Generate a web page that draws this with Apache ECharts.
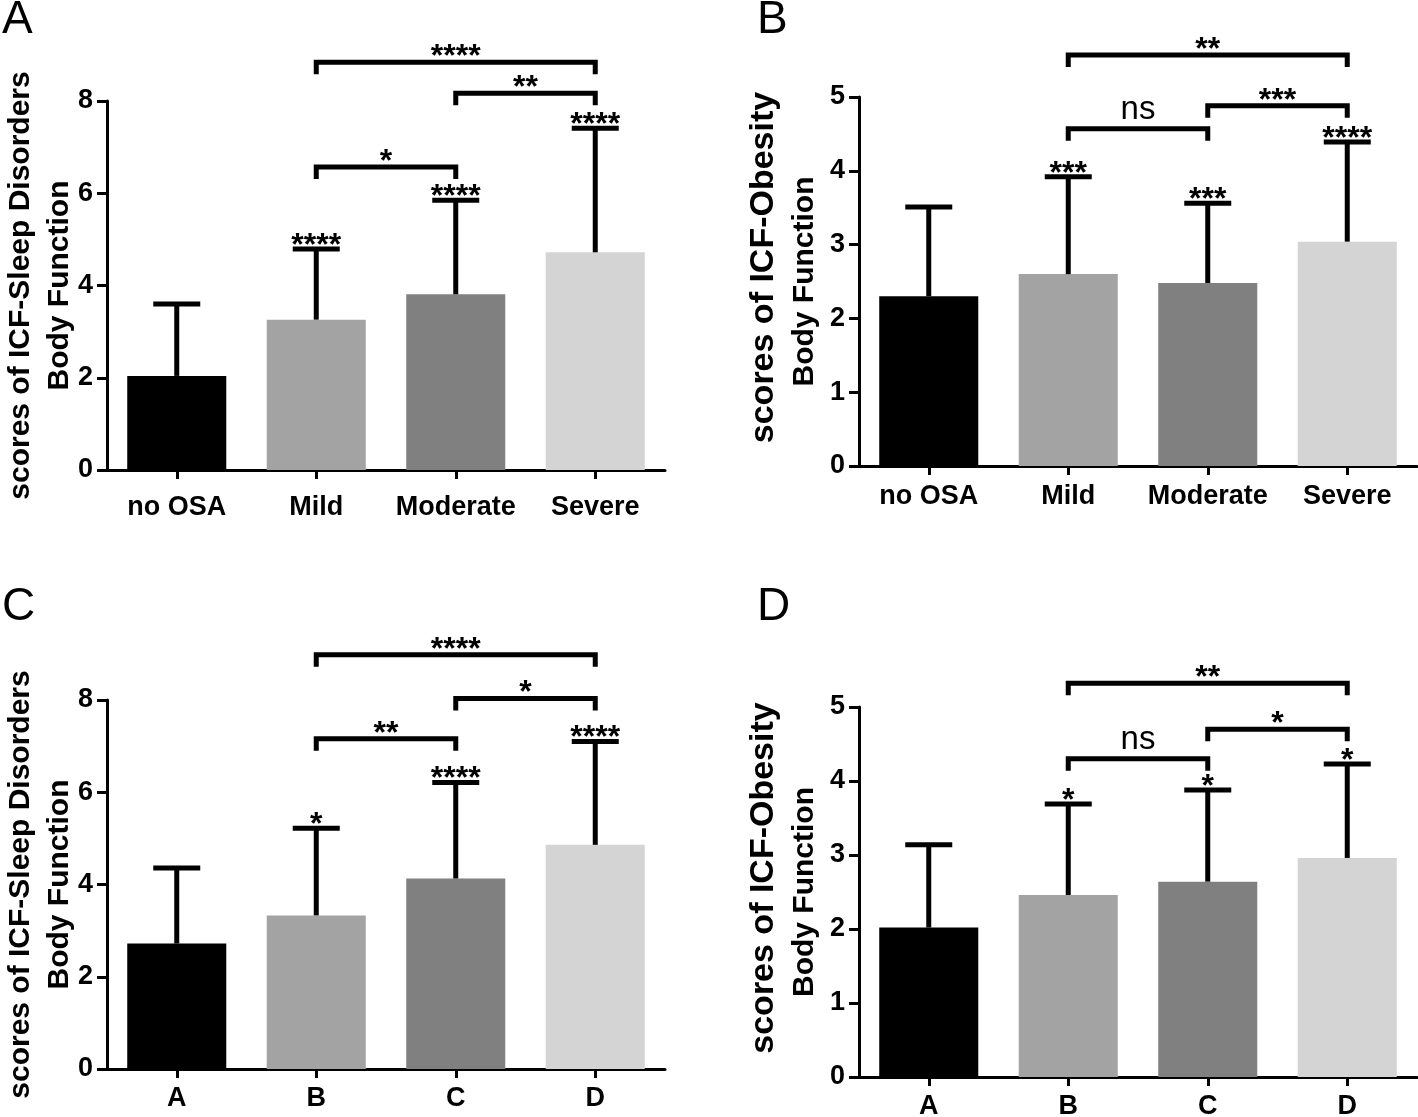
<!DOCTYPE html>
<html>
<head>
<meta charset="utf-8">
<script src="https://cdn.jsdelivr.net/npm/echarts@6/dist/echarts.min.js"></script>
<style>
html,body{margin:0;padding:0;background:#fff;}
#chart{width:1418px;height:1117px;}
</style>
</head>
<body>
<div id="chart"></div>
<script>
// ---------- data ----------
const catsSeverity = ['no OSA', 'Mild', 'Moderate', 'Severe'];
const catsGroup = ['A', 'B', 'C', 'D'];

// Panel A: ICF-Sleep Disorders by OSA severity
const meanA = [2.04, 3.26, 3.81, 4.72];
const upperA = [3.60, 4.79, 5.85, 7.41];
const capSigA = ['', '****', '****', '****'];
const bracketsA = [[1, 2, 6.57, '*'], [2, 3, 8.17, '**'], [1, 3, 8.84, '****']];

// Panel B: ICF-Obesity by OSA severity
const meanB = [2.30, 2.60, 2.48, 3.04];
const upperB = [3.51, 3.92, 3.56, 4.39];
const capSigB = ['', '***', '***', '****'];
const bracketsB = [[1, 2, 4.57, 'ns'], [2, 3, 4.88, '***'], [1, 3, 5.57, '**']];

// Panel C: ICF-Sleep Disorders by group
const meanC = [2.72, 3.33, 4.13, 4.86];
const upperC = [4.36, 5.22, 6.21, 7.10];
const capSigC = ['', '*', '****', '****'];
const bracketsC = [[1, 2, 7.16, '**'], [2, 3, 8.03, '*'], [1, 3, 8.98, '****']];

// Panel D: ICF-Obesity by group
const meanD = [2.02, 2.46, 2.64, 2.96];
const upperD = [3.14, 3.69, 3.88, 4.23];
const capSigD = ['', '*', '*', '*'];
const bracketsD = [[1, 2, 4.30, 'ns'], [2, 3, 4.70, '*'], [1, 3, 5.32, '**']];

// y-axis ranges / ticks
const yMaxSleep = 8, yStepSleep = 2;
const yMaxObes = 5, yStepObes = 1;

const yTitleSleep = ['scores of ICF-Sleep Disorders', 'Body Function'];
const yTitleObes = ['scores of ICF-Obesity', 'Body Function'];
const panelLetters = ['A', 'B', 'C', 'D'];

// ---------- styles ----------
const FONT = "'Liberation Sans', Arial, Helvetica, sans-serif";
const barColors = ['#000000', '#a3a3a3', '#808080', '#d4d4d4'];

const grids = [
  {left: 107, top: 101, width: 558, height: 369, outerBoundsMode: 'none'},
  {left: 859, top: 97, width: 558, height: 369, outerBoundsMode: 'none'},
  {left: 107, top: 700, width: 558, height: 369, outerBoundsMode: 'none'},
  {left: 859, top: 707, width: 558, height: 370, outerBoundsMode: 'none'}
];
const xLabelMargin = [24, 17, 16, 16];

// title line styles per panel
const titleFmt = [
  {s1: 30, pad: 0, gap: 27},
  {s1: 34, pad: 28, gap: 34},
  {s1: 30, pad: 0, gap: 27},
  {s1: 34, pad: 28, gap: 34}
];

const panels = [
  {cats: catsSeverity, mean: meanA, upper: upperA, cap: capSigA, br: bracketsA, max: yMaxSleep, step: yStepSleep, title: yTitleSleep},
  {cats: catsSeverity, mean: meanB, upper: upperB, cap: capSigB, br: bracketsB, max: yMaxObes, step: yStepObes, title: yTitleObes},
  {cats: catsGroup, mean: meanC, upper: upperC, cap: capSigC, br: bracketsC, max: yMaxSleep, step: yStepSleep, title: yTitleSleep},
  {cats: catsGroup, mean: meanD, upper: upperD, cap: capSigD, br: bracketsD, max: yMaxObes, step: yStepObes, title: yTitleObes}
];

const xAxes = [], yAxes = [], series = [];

panels.forEach((p, k) => {
  const tf = titleFmt[k];
  xAxes.push({
    type: 'category', gridIndex: k, data: p.cats, boundaryGap: true,
    axisLine: {show: true, lineStyle: {color: '#000', width: 3}},
    axisTick: {show: true, alignWithLabel: true, interval: 0, length: 9, lineStyle: {color: '#000', width: 3}},
    axisLabel: {color: '#000', fontFamily: FONT, fontWeight: 'bold', fontSize: 27, margin: xLabelMargin[k], interval: 0, hideOverlap: false},
    splitLine: {show: false}
  });
  yAxes.push({
    type: 'value', gridIndex: k, min: 0, max: p.max, interval: p.step,
    name: '{a|' + p.title[0] + '}\n{b|' + p.title[1] + '}',
    nameLocation: 'middle', nameGap: tf.gap, nameMoveOverlap: false,
    nameTextStyle: {
      color: '#000', fontFamily: FONT, fontWeight: 'bold', fontSize: 30, align: 'center',
      rich: {
        a: {fontFamily: FONT, fontWeight: 'bold', fontSize: tf.s1, lineHeight: tf.s1 + 8, color: '#000', padding: [0, 0, 0, tf.pad]},
        b: {fontFamily: FONT, fontWeight: 'bold', fontSize: 30, lineHeight: 40, color: '#000'}
      }
    },
    axisLine: {show: true, lineStyle: {color: '#000', width: 3}},
    axisTick: {show: true, length: 10, lineStyle: {color: '#000', width: 3}},
    axisLabel: {color: '#000', fontFamily: FONT, fontWeight: 'bold', fontSize: 27, margin: 14},
    splitLine: {show: false}
  });

  // bars
  series.push({
    type: 'bar', xAxisIndex: k, yAxisIndex: k, barWidth: '71%',
    data: p.mean.map((v, i) => ({value: v, itemStyle: {color: barColors[i]}})),
    silent: true, animation: false
  });

  // error bars (upper only, GraphPad style)
  series.push({
    type: 'custom', xAxisIndex: k, yAxisIndex: k, clip: false, animation: false, silent: true, z: 3,
    data: p.mean.map((v, i) => [i, v, p.upper[i]]),
    renderItem: (params, api) => {
      const base = api.coord([api.value(0), api.value(1)]);
      const top = api.coord([api.value(0), api.value(2)]);
      const half = 23.5;
      return {
        type: 'group', children: [
          {type: 'line', shape: {x1: base[0], y1: base[1], x2: top[0], y2: top[1]}, style: {stroke: '#000', lineWidth: 5}},
          {type: 'line', shape: {x1: top[0] - half, y1: top[1], x2: top[0] + half, y2: top[1]}, style: {stroke: '#000', lineWidth: 5}}
        ]
      };
    }
  });

  // significance over error caps
  series.push({
    type: 'custom', xAxisIndex: k, yAxisIndex: k, clip: false, animation: false, silent: true, z: 4,
    data: p.upper.map((v, i) => [i, v, p.cap[i]]),
    renderItem: (params, api) => {
      const pt = api.coord([api.value(0), api.value(1)]);
      const txt = p.cap[params.dataIndex];
      if (!txt) return null;
      return {
        type: 'text', x: pt[0], y: pt[1] - 3,
        style: {text: txt, fill: '#000', font: 'bold 32px ' + FONT, align: 'center', verticalAlign: 'middle'}
      };
    }
  });

  // comparison brackets
  series.push({
    type: 'custom', xAxisIndex: k, yAxisIndex: k, clip: false, animation: false, silent: true, z: 4,
    data: p.br.map(b => [b[0], b[1], b[2]]),
    renderItem: (params, api) => {
      const a = api.coord([api.value(0), api.value(2)]);
      const b = api.coord([api.value(1), api.value(2)]);
      const lab = p.br[params.dataIndex][3];
      const drop = 12;
      const isNs = lab === 'ns';
      return {
        type: 'group', children: [
          {type: 'polyline', shape: {points: [[a[0], a[1] + drop], [a[0], a[1]], [b[0], b[1]], [b[0], b[1] + drop]]},
           style: {stroke: '#000', lineWidth: 5, fill: null, lineJoin: 'miter'}},
          {type: 'text', x: (a[0] + b[0]) / 2, y: a[1] - (isNs ? 19 : 5),
           style: {text: lab, fill: '#000', font: (isNs ? 'normal 33px ' : 'bold 32px ') + FONT, align: 'center', verticalAlign: 'middle'}}
        ]
      };
    }
  });
});

const letterPos = [[2, -3], [757, -3], [2, 584], [757, 584]];
const titles = panelLetters.map((t, i) => ({
  text: t, left: letterPos[i][0], top: letterPos[i][1], padding: 0,
  textStyle: {color: '#000', fontFamily: FONT, fontWeight: 'normal', fontSize: 46}
}));

const chart = echarts.init(document.getElementById('chart'), null, {renderer: 'canvas'});
chart.setOption({
  backgroundColor: '#fff',
  animation: false,
  title: titles,
  grid: grids,
  xAxis: xAxes,
  yAxis: yAxes,
  series: series
});
</script>
</body>
</html>
